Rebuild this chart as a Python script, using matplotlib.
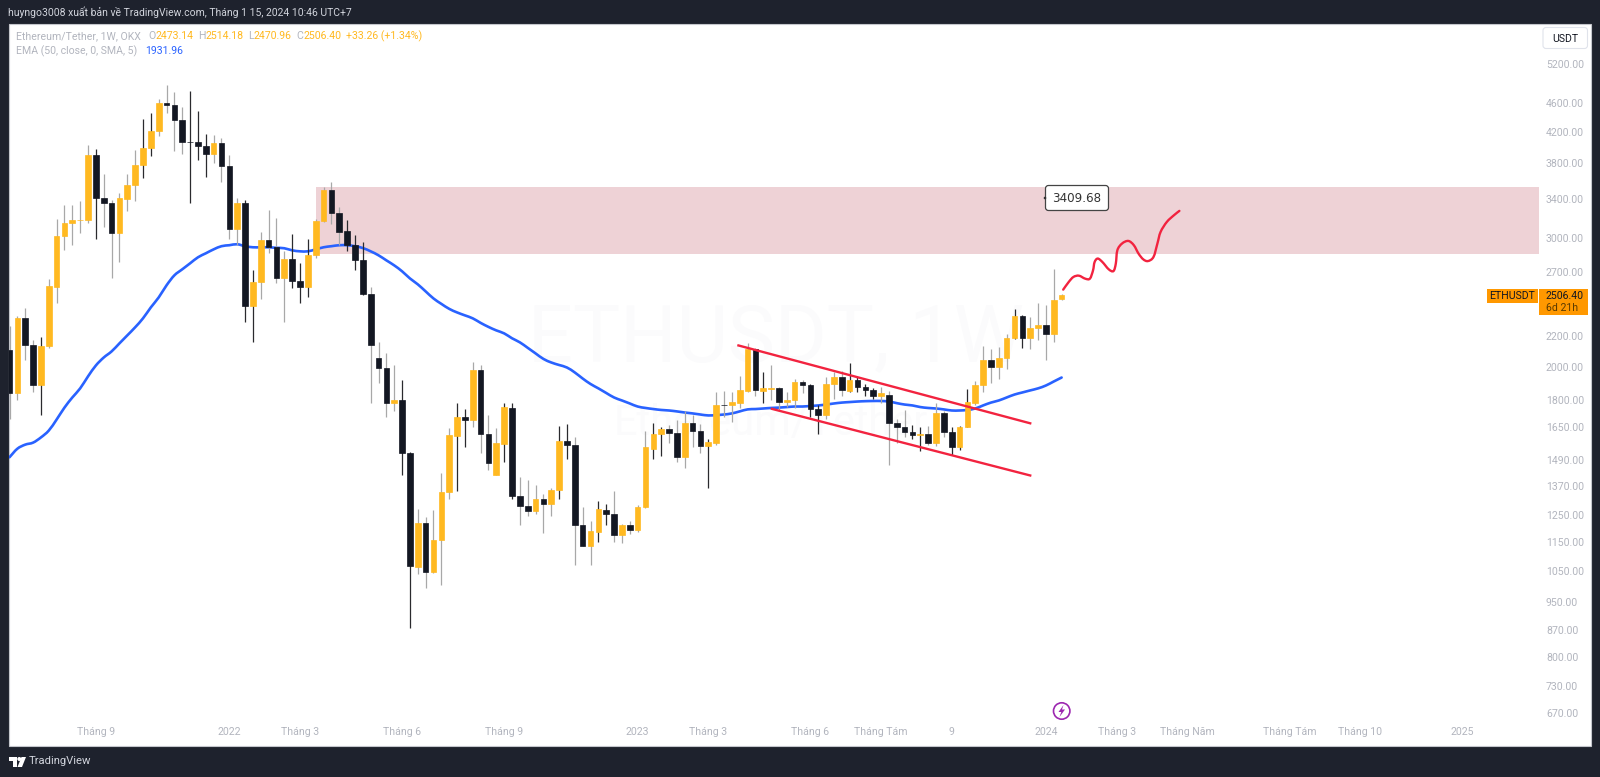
import matplotlib
matplotlib.use('Agg')
import matplotlib.pyplot as plt
import numpy as np
from matplotlib.patches import Rectangle, FancyBboxPatch, Circle, Polygon, PathPatch
from matplotlib.path import Path

# weekly ETH/USDT candles
opens = [2105,1837,2329,2138,1884,2132,2569,3018,3145,3175,
         3180,3899,3404,3350,3047,3393,3546,3778,3987,4207,
         4592,4575,4356,4070,4063,4012,3911,4050,3766,3086,
         3350,2419,2610,2981,2915,2643,2806,2618,2569,2842,
         3165,3491,3245,3066,2934,2797,2512,2052,1994,1785,
         1802,1520,1063,1222,1044,1158,1344,1604,1708,1692,
         1976,1614,1422,1568,1757,1327,1289,1269,1318,1297,
         1356,1583,1563,1214,1136,1187,1273,1257,1176,1214,
         1195,1285,1544,1619,1640,1624,1505,1676,1634,1558,
         1573,1774,1769,1785,1849,2112,1849,1861,1867,1791,
         1797,1902,1884,1747,1714,1890,1933,1849,1914,1878,
         1855,1820,1831,1676,1650,1629,1609,1614,1573,1725,
         1629,1549,1655,1785,1884,2039,2000,2052,2187,2343,
         2187,2257,2278,2214,2473.14]
highs = [2271,2343,2404,2173,2193,2635,3185,3329,3329,3371,
         4024,3974,3672,3382,3458,3672,3961,4370,4453,4656,
         4866,4759,4539,4775,4482,4167,4154,4115,3899,3404,
         3382,2710,3057,3277,3195,2878,3037,2771,2990,3185,
         3524,3580,3308,3175,3028,2962,2569,2159,2085,2007,
         1914,1525,1277,1245,1273,1427,1645,1780,1752,2026,
         2013,1719,1645,1785,1780,1409,1396,1378,1339,1365,
         1660,1670,1599,1285,1230,1310,1297,1352,1218,1230,
         1293,1634,1676,1655,1665,1692,1736,1714,1670,1589,
         1843,1849,1843,1939,2152,2118,1963,2013,1878,1843,
         1926,1920,1890,1769,1933,1963,1970,2020,1933,1890,
         1867,1873,1849,1697,1741,1665,1650,1660,1780,1736,
         1650,1660,1861,1908,2132,2112,2125,2214,2396,2351,
         2336,2442,2426,2719,2514.18]
lows = [1697,1802,2045,1843,1714,2118,2442,2888,2934,3047,
        3145,2990,3106,2643,2780,3266,3371,3626,3887,4141,
        4453,3949,3911,3350,3838,3638,3802,3580,2990,2934,
        2300,2159,2473,2860,2601,2300,2561,2442,2488,2815,
        3155,3135,2934,2878,2710,2505,1785,1896,1703,1736,
        1422,877,1040,994,1042,1004,1318,1352,1553,1655,
        1520,1445,1418,1481,1318,1214,1249,1257,1184,1249,
        1318,1496,1070,1134,1070,1151,1214,1151,1147,1180,
        1187,1281,1496,1510,1573,1481,1454,1553,1520,1365,
        1563,1703,1681,1757,1843,1820,1780,1802,1736,1763,
        1757,1837,1708,1619,1697,1808,1820,1843,1843,1825,
        1808,1780,1468,1573,1599,1589,1530,1563,1558,1599,
        1515,1539,1650,1769,1843,1896,1926,1982,2185,2118,
        2112,2173,2045,2159,2470.96]
closes = [1837,2329,2138,1884,2132,2577,3018,3145,3175,3180,
          3899,3404,3350,3047,3404,3546,3778,3987,4207,4597,
          4575,4356,4063,4063,4012,3911,4050,3766,3086,3350,
          2419,2610,2981,2915,2643,2806,2618,2569,2842,3165,
          3491,3245,3057,2934,2797,2512,2138,1994,1785,1802,
          1520,1067,1222,1044,1158,1348,1609,1708,1692,1976,
          1614,1477,1573,1763,1327,1289,1269,1318,1297,1356,
          1583,1563,1214,1136,1191,1277,1257,1176,1214,1195,
          1285,1549,1619,1640,1624,1505,1676,1634,1558,1578,
          1774,1769,1791,1855,2112,1855,1867,1867,1791,1797,
          1902,1884,1747,1714,1890,1933,1855,1920,1878,1855,
          1820,1837,1676,1650,1629,1609,1614,1573,1725,1629,
          1549,1655,1791,1884,2039,2000,2052,2187,2343,2187,
          2257,2278,2214,2465,2506.40]
ema = [1502,1543,1563,1573,1599,1634,1692,1757,1814,1867,
       1939,2007,2058,2098,2152,2207,2264,2329,2411,2488,
       2585,2668,2719,2771,2824,2860,2896,2925,2934,2943,
       2925,2915,2915,2915,2910,2906,2887,2878,2878,2896,
       2915,2925,2934,2934,2925,2908,2878,2842,2797,2753,
       2702,2642,2593,2536,2480,2438,2400,2373,2351,2329,
       2296,2267,2242,2221,2187,2159,2122,2085,2049,2026,
       2010,1994,1963,1926,1893,1867,1840,1814,1797,1780,
       1763,1755,1749,1744,1741,1736,1730,1725,1719,1714,
       1716,1719,1725,1736,1747,1749,1752,1755,1757,1760,
       1763,1763,1766,1769,1774,1780,1785,1788,1791,1793,
       1794,1794,1791,1782,1774,1769,1760,1755,1752,1747,
       1741,1741,1744,1752,1769,1785,1797,1814,1831,1843,
       1855,1867,1884,1908,1932]
# candles with a black wick, the others have a grey one
black_wicks = [4,11,17,18,23,24,25,30,31,36,37,38,43,44,45,50,51,57,58,63,64,70,71,
               75,76,82,83,89,96,102,103,107,108,109,110,115,116,120,121,122,128,129]

price_ticks = [5200,4600,4200,3800,3400,3000,2700,2200,2000,1800,1650,1490,1370,
               1250,1150,1050,950,870,800,730,670]
time_ticks = [11,28,37,50,63,80,89,102,111,120,132,141,150,163,172,185]
time_labels = ['Tháng 9','2022','Tháng 3','Tháng 6','Tháng 9','2023','Tháng 3','Tháng 6',
               'Tháng Tám','9','2024','Tháng 3','Tháng Năm','Tháng Tám','Tháng 10','2025']

zone_start = 39
zone_low, zone_high = 2851, 3525
upper_x, upper_y = [92.84,130], [2138,1672]
lower_x, lower_y = [97.1,130], [1750,1418]
path_x = [134.2,134.9,135.5,136.2,137.0,137.6,138.0,138.2,138.6,139.2,140.0,140.6,140.9,
          141.1,141.7,142.5,143.2,143.8,144.4,145.0,145.7,146.2,146.6,147.4,148.3,149.0]
path_y = [2550,2612,2654,2665,2640,2640,2710,2782,2813,2782,2719,2704,2768,
          2888,2950,2974,2934,2857,2806,2791,2827,2950,3059,3158,3225,3270]

DARK = '#1e222d'
ORANGE = '#ffb921'
BLACK = '#131722'
GREY = '#b2b5be'
BLUE = '#2962ff'
RED = '#f2233f'


def curve(xs, ys, color, lw, zorder):
    # rounded stroke through the read points, so the line has no corners
    x = np.array(xs, dtype=float)
    y = np.log10(ys)
    verts = [(x[0], y[0])]
    for i in range(len(x) - 1):
        a, b = max(i - 1, 0), min(i + 2, len(x) - 1)
        verts.append((x[i] + (x[i + 1] - x[a]) / 6, y[i] + (y[i + 1] - y[a]) / 6))
        verts.append((x[i + 1] - (x[b] - x[i]) / 6, y[i + 1] - (y[b] - y[i]) / 6))
        verts.append((x[i + 1], y[i + 1]))
    verts = [(vx, 10 ** vy) for vx, vy in verts]
    codes = [Path.MOVETO] + [Path.CURVE4] * (len(verts) - 1)
    ax.add_patch(PathPatch(Path(verts, codes), fc='none', ec=color, lw=lw, capstyle='round', zorder=zorder))


plt.rcParams['font.family'] = ['Roboto', 'DejaVu Sans']
fig = plt.figure(figsize=(16, 7.77), dpi=100, facecolor=DARK)
W, H = 1600, 777

fig.patches.append(Rectangle((9/W, 1-746/H), 1582/W, 722/H, transform=fig.transFigure,
                             facecolor='white', edgecolor='#c4c6cc', lw=0.8, zorder=-1))

ax = fig.add_axes([9/W, 1-746/H, 1530/W, 722/H])
ax.patch.set_alpha(0)
ax.set_yscale('log')
x_left, x_right = -0.064, 194.8
ax.set_xlim(x_left, x_right)
ax.set_ylim(603.5, 5900)
for s in ax.spines.values():
    s.set_visible(False)

# faint watermark
ax.text(0.339, 0.564, 'ETHUSDT, 1W', transform=ax.transAxes, fontsize=57, color='#fbfbfc',
        ha='left', va='center', zorder=0)
ax.text(0.395, 0.446, 'Ethereum/Tether', transform=ax.transAxes, fontsize=30, color='#fbfbfc',
        ha='left', va='center', zorder=0)

ax.fill_between([zone_start, x_right], zone_low, zone_high, color='#eed2d6', lw=0, zorder=1)
idx = list(range(len(opens)))
curve(idx, ema, BLUE, 1.9, 2)

wick_cols = ['#2a2a2e' if i in black_wicks else '#a8a8a8' for i in idx]
ax.vlines(idx, lows, highs, colors=wick_cols, lw=0.9, zorder=3)
body_cols = [ORANGE if c >= o else BLACK for o, c in zip(opens, closes)]
bottoms = [min(o, c) for o, c in zip(opens, closes)]
heights = [abs(c - o) for o, c in zip(opens, closes)]
ax.bar(idx, heights, bottom=bottoms, width=0.72, color=body_cols, edgecolor=body_cols, lw=0.5, zorder=4)

ax.plot(upper_x, upper_y, color=RED, lw=1.7, zorder=5)
ax.plot(lower_x, lower_y, color=RED, lw=1.7, zorder=5)
curve(path_x, path_y, RED, 1.7, 5)

ax.yaxis.tick_right()
ax.set_yticks(price_ticks)
ax.set_yticklabels(['%.2f' % p for p in price_ticks])
ax.minorticks_off()
ax.tick_params(axis='y', length=0, pad=5, labelsize=7.6, labelcolor=GREY)
ax.set_xticks(time_ticks)
ax.set_xticklabels(time_labels)
ax.tick_params(axis='x', length=0, pad=-13.5, labelsize=7.6, labelcolor=GREY)

# page furniture in pixel coordinates
ui = fig.add_axes([0, 0, 1, 1])
ui.set_xlim(0, W)
ui.set_ylim(H, 0)
ui.axis('off')
ui.patch.set_alpha(0)

ui.text(8.5, 12.5, 'huyngo3008 xuất bản về TradingView.com, Tháng 1 15, 2024 10:46 UTC+7',
        color='#d1d4dc', fontsize=7.5, va='center')

legend_row = [(15.5, 'Ethereum/Tether, 1W, OKX', GREY), (148, 'O', GREY), (155, '2473.14', ORANGE),
              (198, 'H', GREY), (205, '2514.18', ORANGE), (248, 'L', GREY), (253.5, '2470.96', ORANGE),
              (296.5, 'C', GREY), (303, '2506.40', ORANGE), (346, '+33.26 (+1.34%)', ORANGE)]
for x, s, c in legend_row:
    ui.text(x, 36, s, color=c, fontsize=7.6, va='center')
ui.text(15.5, 51, 'EMA (50, close, 0, SMA, 5)', color=GREY, fontsize=7.6, va='center')
ui.text(145, 51, '1931.96', color=BLUE, fontsize=7.6, va='center')

ui.add_patch(FancyBboxPatch((1544, 28.5), 42.5, 19, boxstyle='round,pad=1,rounding_size=3',
                            fc='white', ec='#e0e3eb', lw=0.8))
ui.text(1565, 38.5, 'USDT', color=BLACK, fontsize=7.6, ha='center', va='center')

ui.add_patch(Rectangle((1486.7, 289), 51.3, 14, fc='#ff9800', ec='none'))
ui.text(1512, 296, 'ETHUSDT', color=BLACK, fontsize=7.6, ha='center', va='center')
ui.add_patch(Rectangle((1539, 289), 48.7, 26, fc='#ff9800', ec='none'))
ui.text(1546, 296, '2506.40', color=BLACK, fontsize=7.6, va='center')
ui.text(1546, 308, '6d 21h', color='#5a3a00', fontsize=7.6, va='center')

ui.add_patch(FancyBboxPatch((1048, 188), 58, 20, boxstyle='round,pad=2.5,rounding_size=3',
                            fc='white', ec='#444444', lw=0.9, zorder=6))
ui.add_patch(Circle((1045, 198), 1.3, fc='#333333', ec='none', zorder=7))
ui.text(1077, 198.5, '3409.68', color='#333333', fontsize=8.6, family='DejaVu Sans',
        ha='center', va='center', zorder=7)

# earnings style marker near the time axis
ui.add_patch(Circle((1061.7, 711), 8.2, fc='white', ec='#9c27b0', lw=1.2))
ui.add_patch(Polygon([(1063.5, 705), (1058.5, 712), (1061.3, 712), (1059.5, 717), (1065, 709.5), (1062, 709.5)],
                     fc='#9c27b0', ec='none'))

# TradingView logo
ui.add_patch(Polygon([(9, 757), (17, 757), (17, 767), (13, 767), (13, 761), (9, 761)], fc='white', ec='none'))
ui.add_patch(Circle((19.3, 759), 2, fc='white', ec='none'))
ui.add_patch(Polygon([(21.5, 757), (26, 757), (22, 767), (17.5, 767)], fc='white', ec='none'))
ui.text(29, 761.5, 'TradingView', color='#d1d4dc', fontsize=8.1, va='center')

fig.savefig('out.png', dpi=100, facecolor=DARK)
